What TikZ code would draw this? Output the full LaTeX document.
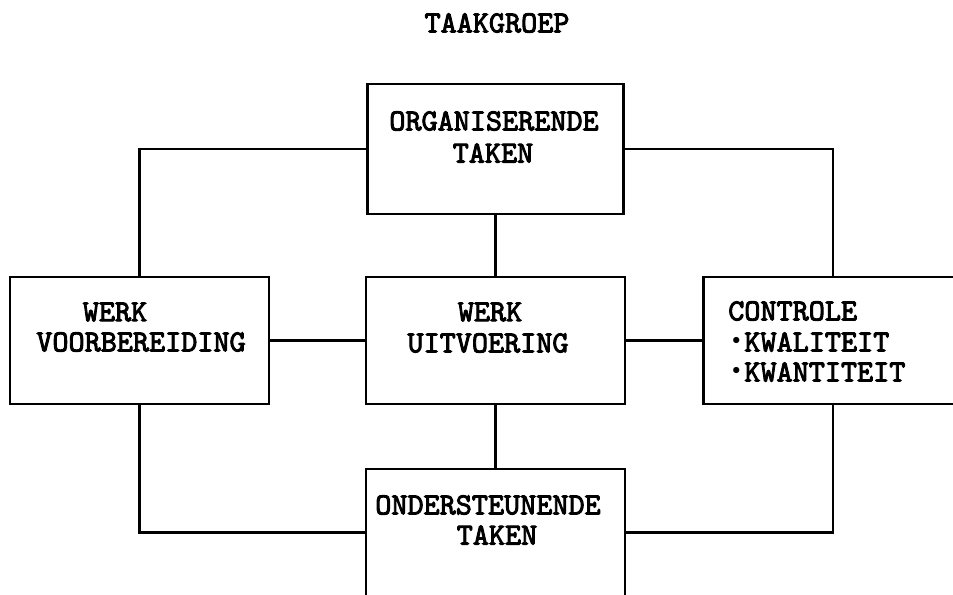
\documentclass[tikz,border=0pt]{standalone}
\usepackage{fontspec}
\newfontfamily\slab{lmmono10-regular.otf}[FakeBold=3]
\newcommand{\bul}{\makebox[0.525em][c]{\raisebox{5pt}{\fontsize{12}{12}\selectfont$\bullet$}}}
\begin{document}
\begin{tikzpicture}[x=0.75pt,y=-0.75pt,
  box/.style={draw,line width=2pt,inner sep=0pt,minimum width=194.25pt,minimum height=95.25pt},
  txt/.style={font=\slab\fontsize{23}{27}\selectfont,inner sep=0pt},
  link/.style={line width=2pt}]
\useasboundingbox (0,0) rectangle (953,594);
\clip (0,0) rectangle (953,594);
% boxes
\node[box,minimum width=192pt,minimum height=97.5pt] (org) at (495.5,149) {};
\node[box] (prep) at (139.5,340.5) {};
\node[box] (exec) at (495.5,340.5) {};
\node[box] (ctrl) at (833,340.5) {};
\node[box] (sup) at (495.5,532.5) {};
% texts
\node[txt] (title) at (497,23) {TAAKGROEP};
\node[txt] (orgA) at (494,121) {ORGANISERENDE};
\node[txt] (orgB) at (493,153) {TAKEN};
\node[txt] (prepA) at (115,312) {WERK};
\node[txt] (prepB) at (141,342) {VOORBEREIDING};
\node[txt] (execA) at (490,312) {WERK};
\node[txt] (execB) at (488,343) {UITVOERING};
\node[txt,anchor=west] (ctrlA) at (728,311) {CONTROLE};
\node[txt,anchor=west] (ctrlB) at (728,342) {\bul KWALITEIT};
\node[txt,anchor=west] (ctrlC) at (728,372) {\bul KWANTITEIT};
\node[txt] (supA) at (488,505) {ONDERSTEUNENDE};
\node[txt] (supB) at (497,535) {TAKEN};
% connectors
\draw[link] (org.west) -| (prep.north);
\draw[link] (org.east) -| (ctrl.north);
\draw[link] (org.south) -- (exec.north);
\draw[link] (prep.east) -- (exec.west);
\draw[link] (exec.east) -- (ctrl.west);
\draw[link] (exec.south) -- (sup.north);
\draw[link] (prep.south) |- (sup.west);
\draw[link] (ctrl.south) |- (sup.east);
\end{tikzpicture}
\end{document}
